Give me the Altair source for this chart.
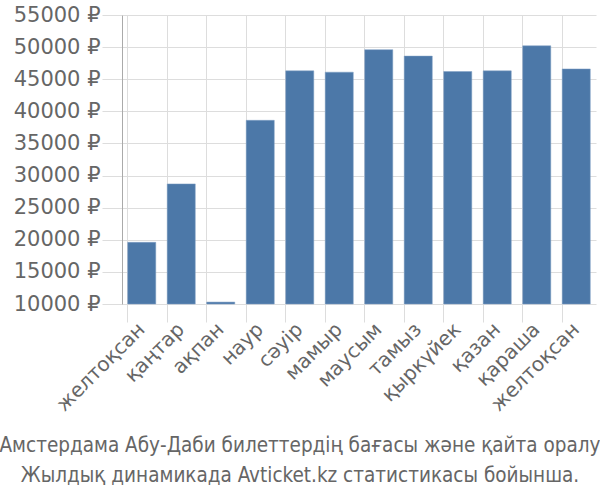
import altair as alt
import pandas as pd

months = ["желтоқсан", "қаңтар", "ақпан", "наур", "сәуір", "мамыр", "маусым",
          "тамыз", "қыркүйек", "қазан", "қараша", "желтоқсан"]
prices = [19600, 28700, 10300, 38600, 46300, 46100, 49600, 48600, 46200, 46300, 50200, 46600]
y_ticks = [10000, 15000, 20000, 25000, 30000, 35000, 40000, 45000, 50000, 55000]
title_lines = ["Амстердама Абу-Даби билеттердің бағасы және қайта оралу",
               "Жылдық динамикада Avticket.kz статистикасы бойынша."]

df = pd.DataFrame({"idx": list(range(len(months))), "price": prices})
label_array = "[" + ",".join('"' + m + '"' for m in months) + "]"

chart = alt.Chart(df).mark_bar(color="#4c78a8", stroke="#7f9fc4", strokeWidth=0.5).encode(
    x=alt.X("idx:O",
            scale=alt.Scale(paddingInner=0.29, paddingOuter=0.145),
            axis=alt.Axis(title=None, labelAngle=-45, labelAlign="right", labelBaseline="middle",
                          labelExpr=label_array + "[datum.value]",
                          labelFont="DejaVu Sans", labelFontSize=20, labelColor="#666666",
                          labelPadding=4, tickSize=18, tickColor="#dddddd", bandPosition=0,
                          grid=True, gridColor="#dddddd", domain=False)),
    y=alt.Y("price:Q",
            scale=alt.Scale(domain=[10000, 55000], zero=False, nice=False),
            axis=alt.Axis(title=None, values=y_ticks, labelExpr="datum.value + ' ₽'",
                          labelFont="DejaVu Sans", labelFontSize=21, labelColor="#666666",
                          labelPadding=2, tickSize=20, tickColor="#dddddd",
                          gridColor="#dddddd", domainColor="#aaaaaa")),
    y2=alt.datum(10000),
).properties(
    width=474, height=289,
    autosize=alt.AutoSizeParams(type="none"),
    padding={"left": 122, "top": 15, "right": 4, "bottom": 196},
    title=alt.TitleParams(text=title_lines, orient="bottom", anchor="middle",
                          font="DejaVu Sans Condensed, Liberation Sans", fontSize=20.5,
                          fontWeight="normal", dx=-59,
                          color="#666666", offset=21, lineHeight=30),
).configure_view(stroke=None)

chart.save("out.html", embed_options={"renderer": "svg", "actions": False})
